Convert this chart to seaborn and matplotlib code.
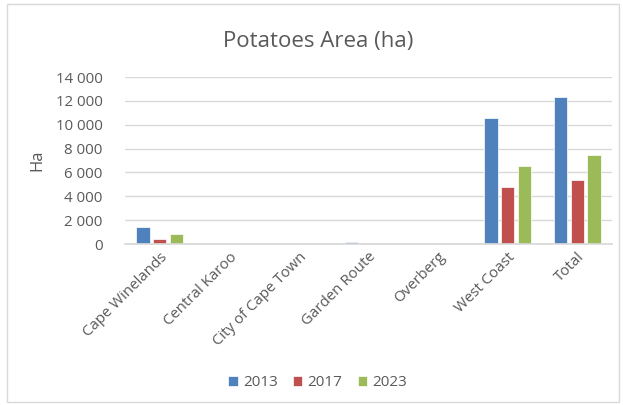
import matplotlib
matplotlib.use("Agg")
import matplotlib.pyplot as plt
from matplotlib.patches import Rectangle
from matplotlib.ticker import FuncFormatter
import seaborn as sns
import pandas as pd

districts = ["Cape Winelands", "Central Karoo", "City of Cape Town",
             "Garden Route", "Overberg", "West Coast", "Total"]
years = ["2013", "2017", "2023"]
area_2013 = [1420, 0, 0, 180, 0, 10550, 12350]
area_2017 = [380, 0, 0, 120, 0, 4750, 5350]
area_2023 = [880, 0, 0, 0, 0, 6500, 7450]
palette = ["#4F81BD", "#C0504D", "#9BBB59"]

rows = []
for yr, vals in zip(years, [area_2013, area_2017, area_2023]):
    for d, v in zip(districts, vals):
        rows.append({"District": d, "Year": yr, "Area": v})
df = pd.DataFrame(rows)

sns.set_theme(style="white")
plt.rcParams["font.family"] = ["Open Sans", "DejaVu Sans"]
text_col = "#595959"

fig = plt.figure(figsize=(6.23, 4.05), dpi=100)
ax = fig.add_axes([125 / 623, 1 - 244 / 405, (612 - 125) / 623, (244 - 77) / 405])

sns.barplot(data=df, x="District", y="Area", hue="Year", palette=palette,
            width=0.72, gap=0.2, ax=ax, edgecolor="#FFFFFF", linewidth=0.5,
            saturation=1, errorbar=None)

ax.set_ylim(0, 14000)
ax.set_yticks(range(0, 14001, 2000))
ax.yaxis.set_major_formatter(FuncFormatter(lambda v, p: f"{int(v):,}".replace(",", " ")))
ax.grid(axis="y", color="#D9D9D9", linewidth=1)
ax.set_axisbelow(True)
for s in ["top", "right", "left"]:
    ax.spines[s].set_visible(False)
ax.spines["bottom"].set_color("#D9D9D9")
ax.tick_params(axis="both", length=0, colors=text_col, labelsize=10.8)
ax.tick_params(axis="y", pad=16)
ax.tick_params(axis="x", pad=4)
plt.setp(ax.get_xticklabels(), rotation=45, ha="right", rotation_mode="anchor")
ax.set_xlabel("")
ax.set_ylabel("Ha", color=text_col, fontsize=12)
ax.yaxis.set_label_coords((45 - 125) / (612 - 125), 0.5)

fig.text(0.51, 1 - 42 / 405, "Potatoes Area (ha)", ha="center", va="center",
         fontsize=16, color=text_col)

leg = ax.legend(loc="center", bbox_to_anchor=(0.51, 1 - 383 / 405), bbox_transform=fig.transFigure,
                ncol=3, frameon=False, fontsize=11, handlelength=0.6, handleheight=0.6,
                columnspacing=1.0, handletextpad=0.35)
for t in leg.get_texts():
    t.set_color(text_col)

fig.patches.append(Rectangle((7 / 623, 3 / 405), 612 / 623, 398 / 405, transform=fig.transFigure,
                             fill=False, edgecolor="#D9D9D9", linewidth=1))

fig.savefig("out.png", dpi=100, facecolor="white")
